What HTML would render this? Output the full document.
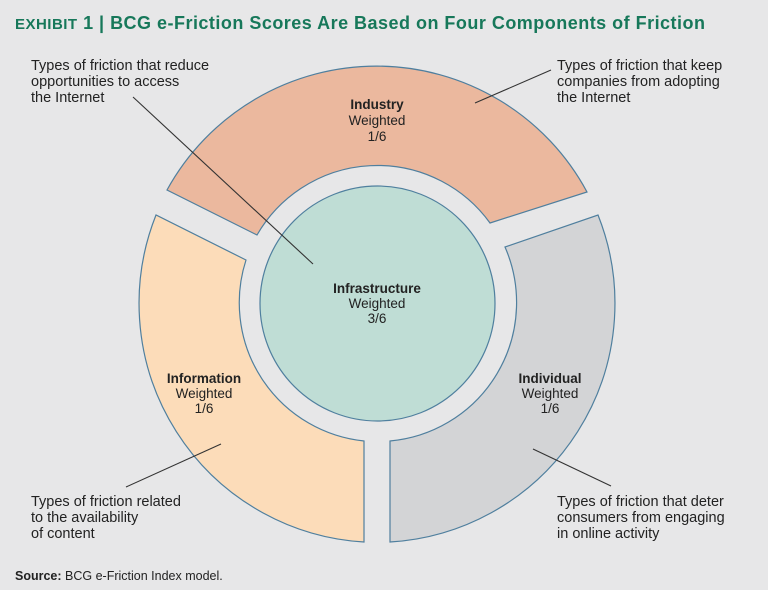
<!DOCTYPE html>
<html><head><meta charset="utf-8"><style>
html,body{margin:0;padding:0;background:#e7e7e8;}
svg{display:block}
.t{font-family:"Liberation Sans Narrow","Liberation Sans",sans-serif;font-size:14.5px;fill:#222}
.l{font-family:"Liberation Sans",sans-serif;font-size:13.5px;fill:#222;text-anchor:middle}
.b{font-weight:bold}
</style></head><body>
<svg width="768" height="590" viewBox="0 0 768 590" xmlns="http://www.w3.org/2000/svg">
<rect width="768" height="590" fill="#e7e7e8"/>
<text x="15" y="29" font-family="Liberation Sans, sans-serif" font-size="18" font-weight="bold" fill="#17785a" textLength="690" lengthAdjust="spacing"><tspan font-size="15">EXHIBIT</tspan> 1 | BCG e-Friction Scores Are Based on Four Components of Friction</text>
<g stroke="#4f7f9e" stroke-width="1.2">
<path d="M167,190 A239,239 0 0 1 587,192 L490,223 A139,139 0 0 0 257,235 Z" fill="#ebb89e"/>
<path d="M156,215 A239,239 0 0 0 364,542 L364,441 A139,139 0 0 1 246,260 Z" fill="#fcdcb9"/>
<path d="M598,215 A239,239 0 0 1 390,542 L390,441 A139,139 0 0 0 505,247 Z" fill="#d3d4d6"/>
<circle cx="377.5" cy="303.5" r="117.5" fill="#bfddd5"/>
</g>
<g stroke="#333" stroke-width="1.1">
<line x1="133" y1="97" x2="313" y2="264"/>
<line x1="551" y1="70" x2="475" y2="103"/>
<line x1="221" y1="444" x2="126" y2="487"/>
<line x1="533" y1="449" x2="611" y2="486"/>
</g>
<text class="t" x="31" y="70">Types of friction that reduce</text>
<text class="t" x="31" y="86">opportunities to access</text>
<text class="t" x="31" y="102">the Internet</text>
<text class="t" x="557" y="70">Types of friction that keep</text>
<text class="t" x="557" y="86">companies from adopting</text>
<text class="t" x="557" y="102">the Internet</text>
<text class="t" x="31" y="506">Types of friction related</text>
<text class="t" x="31" y="522">to the availability</text>
<text class="t" x="31" y="538">of content</text>
<text class="t" x="557" y="506">Types of friction that deter</text>
<text class="t" x="557" y="522">consumers from engaging</text>
<text class="t" x="557" y="538">in online activity</text>
<text class="l b" x="377" y="109">Industry</text>
<text class="l" x="377" y="125">Weighted</text>
<text class="l" x="377" y="141">1/6</text>
<text class="l b" x="377" y="293">Infrastructure</text>
<text class="l" x="377" y="308">Weighted</text>
<text class="l" x="377" y="323">3/6</text>
<text class="l b" x="204" y="383">Information</text>
<text class="l" x="204" y="398">Weighted</text>
<text class="l" x="204" y="413">1/6</text>
<text class="l b" x="550" y="383">Individual</text>
<text class="l" x="550" y="398">Weighted</text>
<text class="l" x="550" y="413">1/6</text>
<text x="15" y="580" font-family="Liberation Sans Narrow, Liberation Sans, sans-serif" font-size="12.5" fill="#222"><tspan font-weight="bold">Source:</tspan> BCG e-Friction Index model.</text>
</svg>
</body></html>
